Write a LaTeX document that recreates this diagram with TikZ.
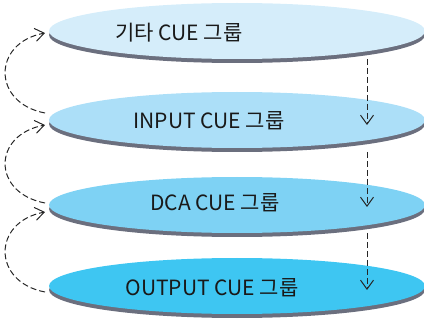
\documentclass[tikz,border=0pt]{standalone}
\usepackage{fontspec}
\setmainfont{Noto Sans CJK KR}
\usetikzlibrary{shapes.geometric,arrows.meta}
\definecolor{cA}{HTML}{D5EDFA}
\definecolor{cB}{HTML}{ACDFF8}
\definecolor{cC}{HTML}{7ED2F4}
\definecolor{cD}{HTML}{3EC6F2}
\definecolor{shad}{HTML}{6B6F7E}
\tikzset{
  disc/.style={ellipse,minimum width=376pt,minimum height=56pt,inner sep=0pt},
  discshadow/.style={disc,fill=shad},
  lbl/.style={inner sep=0pt,font=\fontsize{21pt}{24pt}\selectfont,text=black!90},
  flow/.style={draw=black!85,line width=1pt,dash pattern=on 6pt off 3pt,
    -{Straight Barb[length=9pt,width=13pt,line width=1pt]}},
}
\begin{document}
\begin{tikzpicture}[x=1pt,y=-1pt]
\useasboundingbox (0,0) rectangle (424,321);
% shadows
\node[discshadow] at (237,35) {};
\node[discshadow] at (237,124) {};
\node[discshadow] at (237,209) {};
\node[discshadow] at (237,290) {};
% discs
\node[disc,fill=cA] (e1) at (237,31) {};
\node[disc,fill=cB] (e2) at (237,120) {};
\node[disc,fill=cC] (e3) at (237,205) {};
\node[disc,fill=cD] (e4) at (237,286) {};
% labels
\node[lbl] (t1) at (179,33) {기타 CUE 그룹};
\node[lbl] (t2) at (209,121) {INPUT CUE 그룹};
\node[lbl] (t3) at (215,203) {DCA CUE 그룹};
\node[lbl] (t4) at (212,288) {OUTPUT CUE 그룹};
% right flow coordinates
\coordinate (r1s) at (367,59);
\coordinate (r1e) at (367,125);
\coordinate (r2s) at (367,152);
\coordinate (r2e) at (367,207);
\coordinate (r3s) at (367,233);
\coordinate (r3e) at (367,290);
\draw[flow] (r1s) -- (r1e);
\draw[flow] (r2s) -- (r2e);
\draw[flow] (r3s) -- (r3e);
% left loops
\coordinate (l1s) at (45,113);
\coordinate (l1e) at (45,33);
\coordinate (l2s) at (45,203);
\coordinate (l2e) at (45,125);
\coordinate (l3s) at (45,292);
\coordinate (l3e) at (45,212);
\draw[flow] (l1s) .. controls (-8,103) and (-8,43) .. (l1e);
\draw[flow] (l2s) .. controls (-8,193) and (-8,135) .. (l2e);
\draw[flow] (l3s) .. controls (-8,282) and (-8,222) .. (l3e);
\end{tikzpicture}
\end{document}
